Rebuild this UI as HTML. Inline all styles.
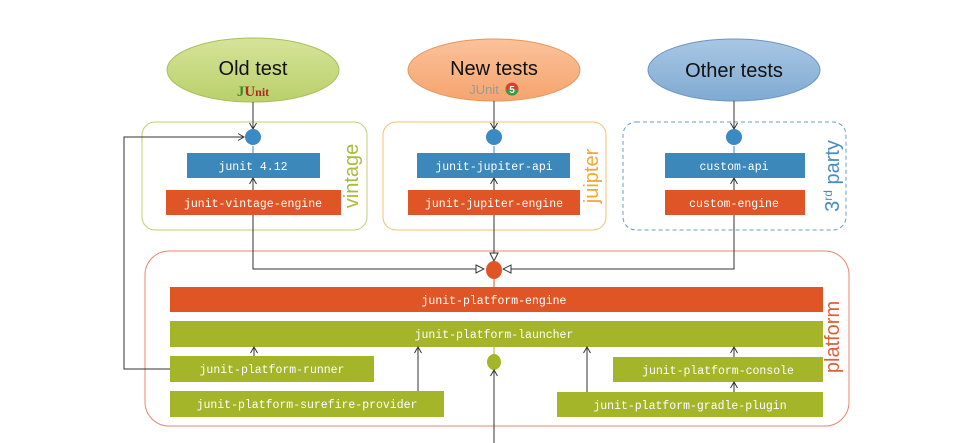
<!DOCTYPE html>
<html><head><meta charset="utf-8"><style>
html,body{margin:0;padding:0;background:#fff;}
svg{display:block;}
.m{font-family:"Liberation Mono",monospace;font-size:11.5px;fill:#fff;text-anchor:middle;}
.s{font-family:"Liberation Sans",sans-serif;}
</style></head><body>
<svg width="963" height="443" viewBox="0 0 963 443" xmlns="http://www.w3.org/2000/svg">
<defs>
<marker id="ar" markerWidth="8" markerHeight="8" refX="7" refY="4" orient="auto" markerUnits="userSpaceOnUse"><path d="M1,0.5 L7,4 L1,7.5" fill="none" stroke="#333" stroke-width="1"/></marker>
<marker id="tr" markerWidth="10" markerHeight="10" refX="9" refY="5" orient="auto" markerUnits="userSpaceOnUse"><path d="M1,1 L9,5 L1,9 Z" fill="#fff" stroke="#333" stroke-width="1"/></marker>
<linearGradient id="g1" x1="0" y1="0" x2="0" y2="1"><stop offset="0" stop-color="#d6e49a"/><stop offset="1" stop-color="#b9d06a"/></linearGradient>
<linearGradient id="g2" x1="0" y1="0" x2="0" y2="1"><stop offset="0" stop-color="#fbc29a"/><stop offset="1" stop-color="#f6a46e"/></linearGradient>
<linearGradient id="g3" x1="0" y1="0" x2="0" y2="1"><stop offset="0" stop-color="#a9c7e4"/><stop offset="1" stop-color="#7faad2"/></linearGradient>
</defs>
<!-- ellipses -->
<ellipse cx="253" cy="70" rx="86" ry="32" fill="url(#g1)" stroke="#a9c05a"/>
<text x="253" y="75" class="s" font-size="20" text-anchor="middle" fill="#111">Old test</text>
<text x="253" y="96" font-family="Liberation Serif,serif" font-size="15" font-weight="bold" text-anchor="middle"><tspan fill="#3a8a2a">J</tspan><tspan fill="#b02a20">U</tspan><tspan fill="#b02a20" font-size="12">nit</tspan></text>
<ellipse cx="494" cy="70" rx="86" ry="31" fill="url(#g2)" stroke="#e8965a"/>
<text x="494" y="75" class="s" font-size="20" text-anchor="middle" fill="#111">New tests</text>
<text x="484" y="94" class="s" font-size="13" text-anchor="middle" fill="#999">JUnit</text>
<circle cx="512" cy="89" r="6.5" fill="#d9412e"/><path d="M505.5,89 A6.5,6.5 0 0 0 518.5,89" fill="#3a9a48"/>
<text x="512" y="93" class="s" font-size="10" font-weight="bold" text-anchor="middle" fill="#fff">5</text>
<ellipse cx="734" cy="70" rx="86" ry="31" fill="url(#g3)" stroke="#6a96c0"/>
<text x="734" y="77" class="s" font-size="20" text-anchor="middle" fill="#111">Other tests</text>
<!-- group boxes -->
<rect x="142" y="122" width="225" height="108" rx="13" fill="none" stroke="#bcd070"/>
<rect x="383" y="122" width="223" height="108" rx="13" fill="none" stroke="#f2c070"/>
<rect x="623" y="122" width="223" height="108" rx="13" fill="none" stroke="#6a9cc6" stroke-dasharray="4,3"/>
<rect x="145" y="251" width="704" height="175" rx="24" fill="none" stroke="#e8866c"/>
<text transform="translate(358,176) rotate(-90)" class="s" font-size="20" text-anchor="middle" fill="#a8bc3a">vintage</text>
<text transform="translate(598,176) rotate(-90)" class="s" font-size="20" text-anchor="middle" fill="#f0a830">juipter</text>
<text transform="translate(839,176) rotate(-90)" class="s" font-size="20" text-anchor="middle" fill="#4a8cc0">3<tspan font-size="12" dy="-7">rd</tspan><tspan dy="7"> party</tspan></text>
<text transform="translate(839,337) rotate(-90)" class="s" font-size="20" text-anchor="middle" fill="#e0603a">platform</text>
<!-- lines top -->
<line x1="253" y1="102" x2="253" y2="129" stroke="#333" marker-end="url(#ar)"/>
<line x1="494" y1="101" x2="494" y2="129" stroke="#333" marker-end="url(#ar)"/>
<line x1="734" y1="101" x2="734" y2="129" stroke="#333" marker-end="url(#ar)"/>
<line x1="253" y1="146" x2="253" y2="153" stroke="#3c88bb"/>
<line x1="494" y1="146" x2="494" y2="153" stroke="#3c88bb"/>
<line x1="734" y1="146" x2="734" y2="153" stroke="#3c88bb"/>
<circle cx="253" cy="137" r="8" fill="#3a8ac4"/>
<circle cx="494" cy="137" r="8" fill="#3a8ac4"/>
<circle cx="734" cy="137" r="8" fill="#3a8ac4"/>
<!-- boxes -->
<rect x="187" y="153" width="133" height="25" fill="#3c88bb"/><text x="253" y="170" class="m">junit 4.12</text>
<rect x="166" y="190" width="175" height="25" fill="#e05525"/><text x="253" y="207" class="m">junit-vintage-engine</text>
<rect x="417" y="153" width="153" height="25" fill="#3c88bb"/><text x="494" y="170" class="m">junit-jupiter-api</text>
<rect x="408" y="190" width="172" height="25" fill="#e05525"/><text x="494" y="207" class="m">junit-jupiter-engine</text>
<rect x="665" y="153" width="140" height="25" fill="#3c88bb"/><text x="734" y="170" class="m">custom-api</text>
<rect x="665" y="190" width="140" height="25" fill="#e05525"/><text x="734" y="207" class="m">custom-engine</text>
<line x1="253" y1="190" x2="253" y2="178" stroke="#333" marker-end="url(#ar)"/>
<line x1="494" y1="190" x2="494" y2="178" stroke="#333" marker-end="url(#ar)"/>
<line x1="734" y1="190" x2="734" y2="178" stroke="#333" marker-end="url(#ar)"/>
<!-- to platform -->
<polyline points="253,215 253,269 484,269" fill="none" stroke="#333" marker-end="url(#tr)"/>
<polyline points="734,215 734,269 503,269" fill="none" stroke="#333" marker-end="url(#tr)"/>
<line x1="494" y1="215" x2="494" y2="261" stroke="#333" marker-end="url(#tr)"/>
<line x1="494" y1="277" x2="494" y2="287" stroke="#e05525"/>
<ellipse cx="494" cy="270" rx="8" ry="9" fill="#e05525"/>
<!-- platform bars -->
<rect x="170" y="287" width="653" height="25" fill="#e05525"/><text x="494" y="304" class="m">junit-platform-engine</text>
<rect x="170" y="321" width="653" height="26" fill="#a4b52a"/><text x="494" y="338" class="m">junit-platform-launcher</text>
<rect x="170" y="356" width="204" height="26" fill="#a4b52a"/><text x="272" y="373" class="m">junit-platform-runner</text>
<rect x="170" y="391" width="274" height="26" fill="#a4b52a"/><text x="307" y="408" class="m">junit-platform-surefire-provider</text>
<rect x="613" y="357" width="210" height="25" fill="#a4b52a"/><text x="718" y="374" class="m">junit-platform-console</text>
<rect x="557" y="392" width="266" height="25" fill="#a4b52a"/><text x="690" y="409" class="m">junit-platform-gradle-plugin</text>
<line x1="494" y1="347" x2="494" y2="354" stroke="#a4b52a"/>
<ellipse cx="494" cy="362" rx="7" ry="8" fill="#a4b52a"/>
<line x1="494" y1="443" x2="494" y2="370" stroke="#333" marker-end="url(#ar)"/>
<line x1="254" y1="356" x2="254" y2="347" stroke="#333" marker-end="url(#ar)"/>
<line x1="418" y1="391" x2="418" y2="347" stroke="#333" marker-end="url(#ar)"/>
<line x1="587" y1="392" x2="587" y2="347" stroke="#333" marker-end="url(#ar)"/>
<line x1="734" y1="357" x2="734" y2="347" stroke="#333" marker-end="url(#ar)"/>
<line x1="734" y1="392" x2="734" y2="382" stroke="#333" marker-end="url(#ar)"/>
<polyline points="170,369 124,369 124,137 244,137" fill="none" stroke="#333" marker-end="url(#ar)"/>
</svg>
</body></html>
